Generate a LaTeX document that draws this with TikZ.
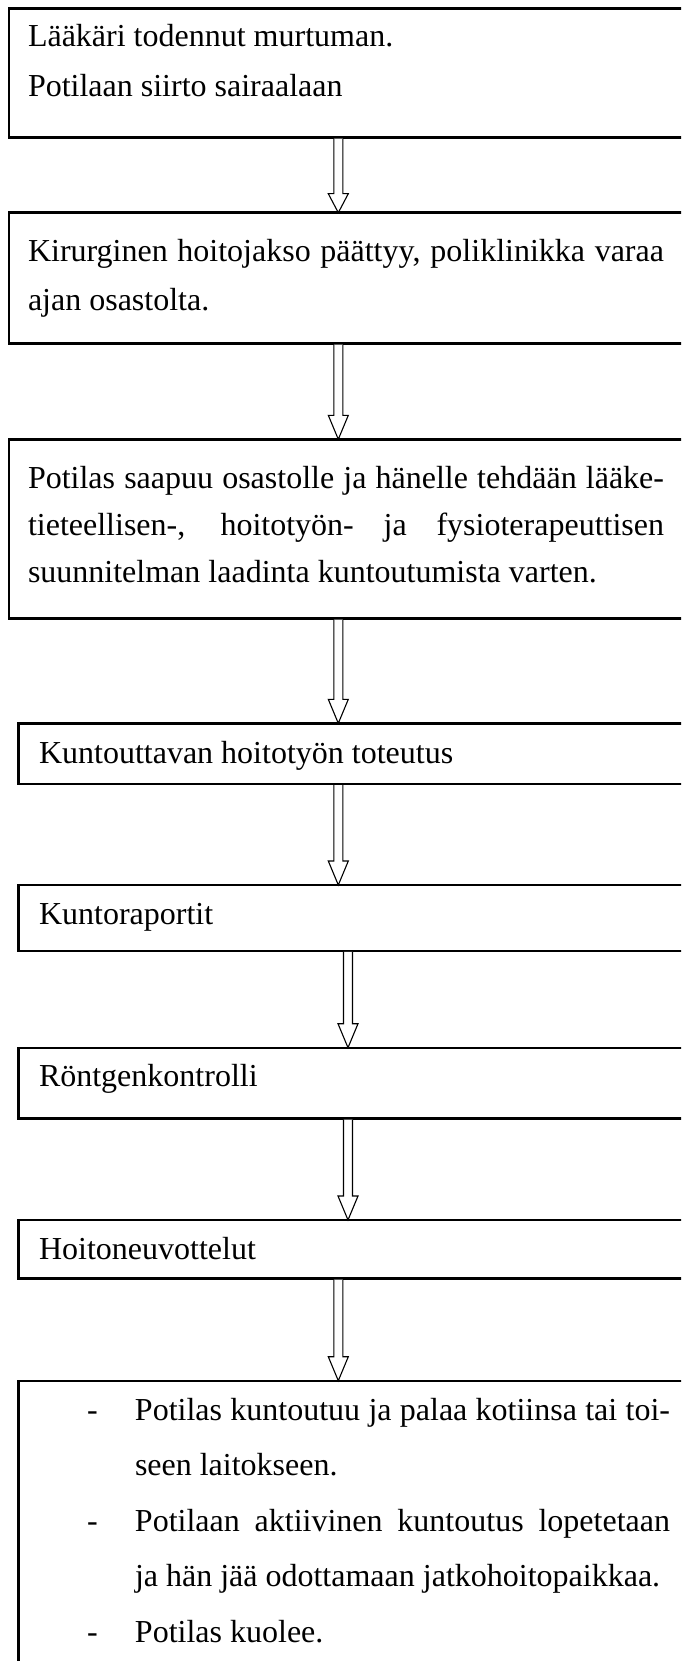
\documentclass[tikz,border=0pt]{standalone}
\usepackage{fontspec}
\setmainfont{Liberation Serif}
\usetikzlibrary{calc}
\tikzset{
  stepbox/.style={draw, line width=2.4pt, rectangle, anchor=north west, outer sep=0pt,
    inner ysep=0pt, inner xsep=19pt, text width=700pt,
    font=\fontsize{32pt}{47pt}\selectfont},
  arrowline/.style={draw=black, fill=white, line width=1.1pt}
}
\newcommand{\boxtext}[2]{\noindent\parbox[t]{#1}{\spaceskip=0pt\xspaceskip=0pt #2}}
\newcommand{\fullline}[1]{\makebox[\linewidth][s]{#1}}
\newcommand{\dashline}[1]{\makebox[48pt][l]{-}#1}
\newcommand{\hangline}[1]{\hspace*{48pt}#1}
\newcommand{\flowarrow}[4][24]{%
  \draw[arrowline] let \p1=(#2.south), \p2=(#3.north) in
    (#4-4.5,\y1-1.2pt) -- (#4-4.5,\y2+#1pt) -- (#4-10,\y2+#1pt) -- (#4,\y2)
    -- (#4+10,\y2+#1pt) -- (#4+4.5,\y2+#1pt) -- (#4+4.5,\y1-1.2pt);}
\begin{document}
\begin{tikzpicture}[x=1pt,y=1pt]
    \useasboundingbox (0,0) rectangle (681,-1661);
    \clip (0,0) rectangle (681,-1661);
    \node[stepbox, text height=38.5pt, text depth=90.5pt,
      font=\fontsize{32pt}{50pt}\selectfont] (laakari) at (9,-8.5)
      {\boxtext{636pt}{Lääkäri todennut murtuman.\\Potilaan siirto sairaalaan}};
    \node[stepbox, text height=49.3pt, text depth=81.3pt,
      font=\fontsize{32pt}{48pt}\selectfont] (kirurginen) at (9,-212.7)
      {\boxtext{636pt}{\fullline{Kirurginen hoitojakso päättyy, poliklinikka varaa}\\ajan osastolta.}};
    \node[stepbox, text height=48.7pt, text depth=130.3pt] (saapuu) at (9,-439.3)
      {\boxtext{636pt}{\fullline{Potilas saapuu osastolle ja hänelle tehdään lääke-}\\
        \fullline{tieteellisen-, hoitotyön- ja fysioterapeuttisen}\\
        suunnitelman laadinta kuntoutumista varten.}};
    \node[stepbox, inner xsep=20.5pt, text height=39.7pt, text depth=21pt] (toteutus) at (18.5,-723.3)
      {\boxtext{636pt}{Kuntouttavan hoitotyön toteutus}};
    \node[stepbox, inner xsep=20.5pt, text height=39pt, text depth=26.7pt] (raportit) at (18.5,-885)
      {\boxtext{636pt}{Kuntoraportit}};
    \node[stepbox, inner xsep=20.5pt, text height=39pt, text depth=31.6pt] (rontgen) at (18.5,-1047.7)
      {\boxtext{636pt}{Röntgenkontrolli}};
    \node[stepbox, inner xsep=20.5pt, text height=39.3pt, text depth=19pt] (neuvottelut) at (18.5,-1220)
      {\boxtext{636pt}{Hoitoneuvottelut}};
    \node[stepbox, inner xsep=68.5pt, text height=39.3pt, text depth=400pt,
      font=\fontsize{32pt}{55.5pt}\selectfont] (lopputulos) at (18.5,-1380.7)
      {\boxtext{583pt}{%
        \dashline{\makebox[535pt][s]{Potilas kuntoutuu ja palaa kotiinsa tai toi-}}\\
        \hangline{seen laitokseen.}\\
        \dashline{\makebox[535pt][s]{Potilaan aktiivinen kuntoutus lopetetaan}}\\
        \hangline{ja hän jää odottamaan jatkohoitopaikkaa.}\\
        \dashline{Potilas kuolee.}}};
    %\draw[red] (0,0) grid[step=100] (681,-1661);
    \flowarrow[19]{laakari}{kirurginen}{338.3}
    \flowarrow{kirurginen}{saapuu}{338.3}
    \flowarrow{saapuu}{toteutus}{338.3}
    \flowarrow{toteutus}{raportit}{338.3}
    \flowarrow{raportit}{rontgen}{348}
    \flowarrow{rontgen}{neuvottelut}{348}
    \flowarrow{neuvottelut}{lopputulos}{338.3}
\end{tikzpicture}
\end{document}
